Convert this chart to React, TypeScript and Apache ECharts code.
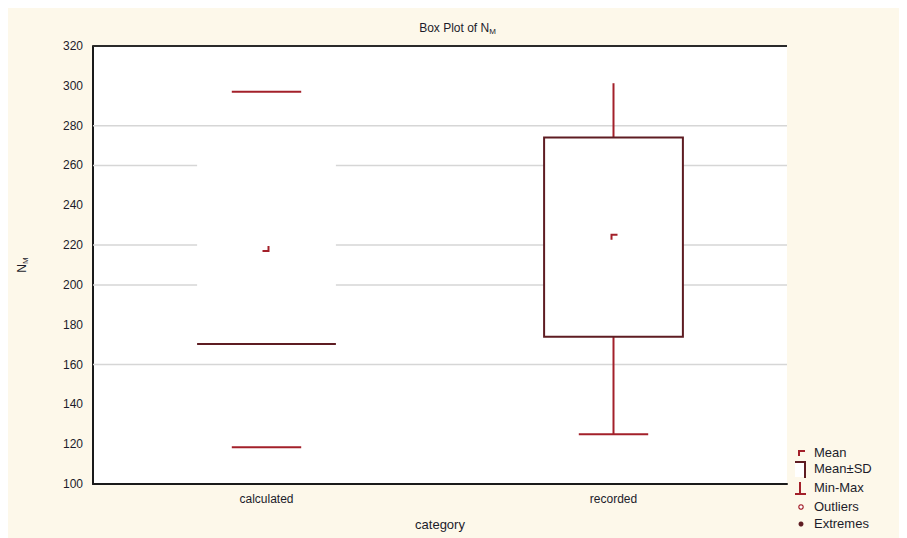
import React, { useEffect, useRef } from "react";
import * as echarts from "echarts";

const categories = ["calculated", "recorded"];
const means = [218.5, 224.2];
const sdLow = [170.3, 174];
const sdHigh = [266.7, 274];
const mins = [118.5, 125];
const maxs = [297, 301.3];
const gridValues = [280, 260, 220, 200, 160];
const legendItems = ["Mean", "Mean±SD", "Min-Max", "Outliers", "Extremes"];

const RED = "#a3202a";
const DARK = "#5e1c22";
const TXT = "#1c1c2a";

export default function App() {
  const ref = useRef<HTMLDivElement>(null);
  useEffect(() => {
    const chart = echarts.init(ref.current!, null, { renderer: "svg" });
    const data = categories.map((c, i) => [i, means[i], sdLow[i], sdHigh[i], mins[i], maxs[i]]);
    const renderItem = (params: any, api: any) => {
      const i = api.value(0);
      const band = api.size([1, 0])[0];
      const boxW = band * 0.4;
      const capW = boxW * 0.5;
      const cx = api.coord([i, 200])[0];
      const y = (v: number) => api.coord([i, v])[1];
      const cs = params.coordSys;
      const children: any[] = [];
      if (params.dataIndex === 0) {
        gridValues.forEach((g) => {
          const gy = y(g);
          children.push({ type: "line", shape: { x1: cs.x, y1: gy, x2: cs.x + cs.width, y2: gy }, style: { stroke: "#d6d6d6", lineWidth: 1.5 } });
        });
        children.push({ type: "line", shape: { x1: cs.x, y1: cs.y, x2: cs.x + cs.width, y2: cs.y }, style: { stroke: "#2a2a2a", lineWidth: 2 } });
      }
      const yMean = y(api.value(1));
      const yLo = y(api.value(2));
      const yHi = y(api.value(3));
      const yMin = y(api.value(4));
      const yMax = y(api.value(5));
      const bx = cx - boxW / 2;
      if (i === 0) {
        children.push({ type: "rect", shape: { x: bx, y: yHi, width: boxW, height: yLo - yHi }, style: { fill: "#fff", stroke: null } });
        children.push({ type: "line", shape: { x1: bx, y1: yLo, x2: bx + boxW, y2: yLo }, style: { stroke: DARK, lineWidth: 2 } });
        children.push({ type: "line", shape: { x1: cx - capW / 2, y1: yMax, x2: cx + capW / 2, y2: yMax }, style: { stroke: RED, lineWidth: 2 } });
        children.push({ type: "line", shape: { x1: cx - capW / 2, y1: yMin, x2: cx + capW / 2, y2: yMin }, style: { stroke: RED, lineWidth: 2 } });
        children.push({ type: "polyline", shape: { points: [[cx - 4, yMean + 3], [cx + 2, yMean + 3], [cx + 2, yMean - 2]] }, style: { stroke: RED, lineWidth: 2, fill: null } });
      } else {
        children.push({ type: "line", shape: { x1: cx, y1: yHi, x2: cx, y2: yMax }, style: { stroke: RED, lineWidth: 2 } });
        children.push({ type: "line", shape: { x1: cx, y1: yLo, x2: cx, y2: yMin }, style: { stroke: RED, lineWidth: 2 } });
        children.push({ type: "line", shape: { x1: cx - capW / 2, y1: yMin, x2: cx + capW / 2, y2: yMin }, style: { stroke: RED, lineWidth: 2 } });
        children.push({ type: "rect", shape: { x: bx, y: yHi, width: boxW, height: yLo - yHi }, style: { fill: "#fff", stroke: DARK, lineWidth: 2 } });
        children.push({ type: "polyline", shape: { points: [[cx - 2, yMean + 3], [cx - 2, yMean - 2], [cx + 4, yMean - 2]] }, style: { stroke: RED, lineWidth: 2, fill: null } });
      }
      return { type: "group", children };
    };

    const lx = 787;
    const ly = [445, 461, 480, 499, 516];
    const font = "Liberation Sans, Arial, sans-serif";
    const legendGraphics: any[] = [];
    legendItems.forEach((t, k) => {
      legendGraphics.push({ type: "text", left: lx + 19, top: ly[k] - 7, style: { text: t, fill: TXT, font: `13px ${font}` } });
    });
    legendGraphics.push({ type: "polyline", shape: { points: [[lx + 4, ly[0] + 3], [lx + 4, ly[0] - 2], [lx + 10, ly[0] - 2]] }, style: { stroke: RED, lineWidth: 2, fill: null } });
    legendGraphics.push({ type: "rect", shape: { x: lx, y: ly[1] - 7, width: 10, height: 15 }, style: { fill: "#fff", stroke: null } });
    legendGraphics.push({ type: "polyline", shape: { points: [[lx, ly[1] - 7], [lx + 10, ly[1] - 7], [lx + 10, ly[1] + 9]] }, style: { stroke: DARK, lineWidth: 2, fill: null } });
    legendGraphics.push({ type: "line", shape: { x1: lx + 5, y1: ly[2] - 6, x2: lx + 5, y2: ly[2] + 6 }, style: { stroke: RED, lineWidth: 2 } });
    legendGraphics.push({ type: "line", shape: { x1: lx, y1: ly[2] + 6, x2: lx + 11, y2: ly[2] + 6 }, style: { stroke: RED, lineWidth: 2 } });
    legendGraphics.push({ type: "circle", shape: { cx: lx + 6, cy: ly[3], r: 2.2 }, style: { fill: "#fff", stroke: RED, lineWidth: 1.2 } });
    legendGraphics.push({ type: "circle", shape: { cx: lx + 6, cy: ly[4], r: 2.5 }, style: { fill: DARK, stroke: null } });

    chart.setOption({
      animation: false,
      backgroundColor: "#fdf8ea",
      title: {
        text: "Box Plot of N{sub|M}",
        left: "center",
        top: 8,
        textStyle: {
          fontFamily: font,
          fontSize: 12,
          fontWeight: "normal",
          color: TXT,
          rich: { sub: { fontSize: 8, verticalAlign: "bottom", padding: [6, 0, 0, 0], fontFamily: font, color: TXT } },
        },
      },
      grid: { left: 85, top: 38, right: 120, bottom: 54, show: true, backgroundColor: "#ffffff", borderWidth: 0 },
      xAxis: {
        type: "category",
        data: categories,
        name: "category",
        nameLocation: "middle",
        nameGap: 34,
        nameTextStyle: { fontFamily: font, fontSize: 13, color: TXT },
        axisLine: { lineStyle: { color: "#1a1a1a", width: 2 } },
        axisTick: { show: false },
        axisLabel: { fontFamily: font, fontSize: 12, color: TXT, margin: 9 },
        splitLine: { show: false },
      },
      yAxis: {
        type: "value",
        min: 100,
        max: 320,
        interval: 20,
        name: "N{sub|M}",
        nameLocation: "middle",
        nameGap: 64,
        nameRotate: 90,
        nameTextStyle: {
          fontFamily: font,
          fontSize: 12,
          color: TXT,
          rich: { sub: { fontSize: 8, fontFamily: font, color: TXT, padding: [6, 0, 0, 0] } },
        },
        axisLine: { show: true, lineStyle: { color: "#1a1a1a", width: 2 } },
        axisTick: { show: false },
        axisLabel: { fontFamily: font, fontSize: 12, color: TXT, margin: 10 },
        splitLine: { show: false },
      },
      series: [
        {
          type: "custom",
          renderItem,
          data,
          encode: { x: 0, y: [1, 2, 3, 4, 5] },
          clip: false,
          z: 5,
        },
      ],
      graphic: legendGraphics,
    });
    return () => chart.dispose();
  }, []);
  return <div ref={ref} style={{ width: 899, height: 530 }} />;
}
